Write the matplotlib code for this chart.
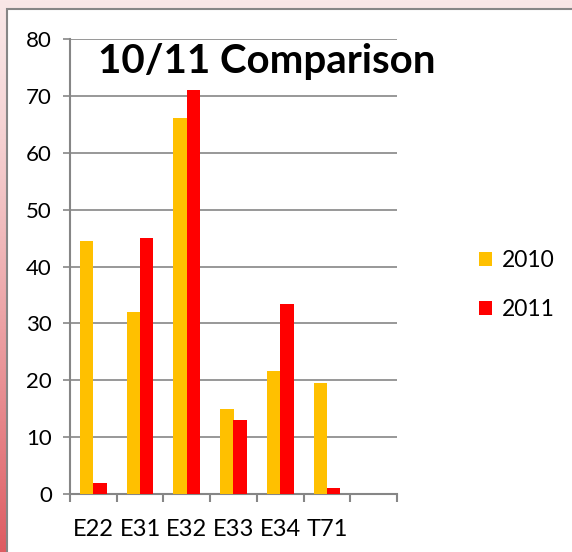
import numpy as np
import matplotlib
matplotlib.use("Agg")
import matplotlib.pyplot as plt
from matplotlib.patches import Rectangle

categories = ["E22", "E31", "E32", "E33", "E34", "T71", ""]
values_2010 = [44.5, 32.0, 66.2, 15.0, 21.7, 19.6, 0]
values_2011 = [2.0, 45.0, 71.1, 13.0, 33.5, 1.0, 0]
series_names = ["2010", "2011"]
colors = ["#FFC000", "#FF0000"]
title = "10/11 Comparison"

plt.rcParams['font.family'] = ['Lato', 'DejaVu Sans']

W, H = 572, 552
fig = plt.figure(figsize=(W / 100, H / 100), dpi=100)

# background gradient
bg = fig.add_axes([0, 0, 1, 1], zorder=-10)
t = np.linspace(0, 1, 256)[:, None]
top = np.array([249, 231, 231]) / 255
bot = np.array([222, 92, 98]) / 255
grad = top[None, None, :] * (1 - t[..., None] ** 1.3) + bot[None, None, :] * (t[..., None] ** 1.3)
grad = np.repeat(grad, 2, axis=1)
bg.imshow(grad, aspect='auto', extent=[0, 1, 0, 1], origin='upper')
bg.add_patch(Rectangle((7 / W, -0.01), 1.0, (H - 8.5) / H + 0.01, facecolor='white',
                       edgecolor='#868686', linewidth=1.5, transform=bg.transAxes))
bg.set_xlim(0, 1)
bg.set_ylim(0, 1)
bg.axis('off')

ax = fig.add_axes([70 / W, (H - 494) / H, (397 - 70) / W, (494 - 39.3) / H])
ax.set_facecolor('none')
x = np.arange(len(categories))
bw = 0.286
b1 = ax.bar(x - bw / 2, values_2010, bw, color=colors[0], label=series_names[0], zorder=3)
b2 = ax.bar(x + bw / 2, values_2011, bw, color=colors[1], label=series_names[1], zorder=3)

ax.set_xlim(-0.5, len(categories) - 0.5)
ax.set_ylim(0, 80)
ax.set_yticks(np.arange(0, 81, 10))
ax.yaxis.grid(True, color='#868686', linewidth=1.2, zorder=0)
ax.set_axisbelow(True)
for s in ['top', 'right']:
    ax.spines[s].set_visible(False)
for s in ['left', 'bottom']:
    ax.spines[s].set_color('#868686')
    ax.spines[s].set_linewidth(1.5)

ax.set_xticks(x)
ax.set_xticklabels(categories, fontsize=17)
ax.tick_params(axis='x', length=0, pad=18)
ax.set_xticks(np.arange(-0.5, len(categories)), minor=True)
ax.tick_params(axis='x', which='minor', length=6, width=1.5, color='#868686')
ax.tick_params(axis='y', length=5, width=1.2, color='#868686', labelsize=16, pad=8)

fig.text(267 / W, (H - 61) / H, title, ha='center', va='center', fontsize=29,
         fontweight='bold', color='black')

leg = ax.legend(handles=[b1, b2], labels=series_names, loc='center left',
                bbox_to_anchor=(458 / W, (H - 285) / H), bbox_transform=fig.transFigure,
                frameon=False, fontsize=16.5, handlelength=0.58, handleheight=0.58,
                handletextpad=0.45, labelspacing=1.2)

fig.savefig("out.png", dpi=100)
